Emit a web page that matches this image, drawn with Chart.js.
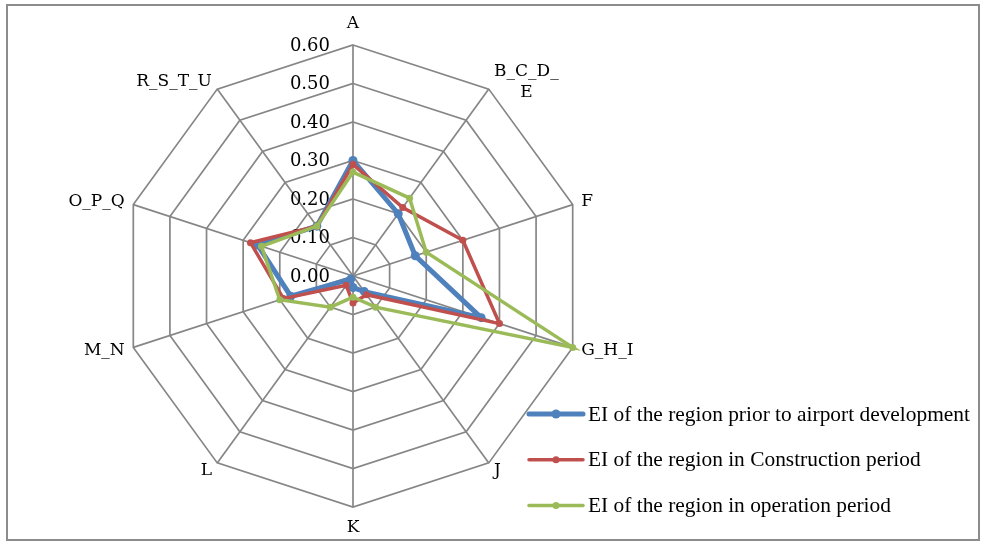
<!DOCTYPE html>
<html>
<head>
<meta charset="utf-8">
<script src="https://cdn.jsdelivr.net/npm/chart.js@4/dist/chart.umd.min.js"></script>
<style>
  html, body { margin: 0; padding: 0; background: #fff; }
  #wrap { position: relative; width: 982px; height: 542px; }
  #frame { position: absolute; left: 6px; top: 4px; width: 974px; height: 537px;
           border: 2px solid #8c8c8c; box-sizing: border-box; pointer-events: none; }
  canvas { position: absolute; left: 0; top: 0; }
</style>
</head>
<body>
<div id="wrap">
  <canvas id="myChart" width="982" height="542"></canvas>
  <div id="frame"></div>
</div>
<script>
// categories (axes of the radar)
const categories = ["A", ["B_C_D_", "E"], "F", "G_H_I", "J", "K", "L", "M_N", "O_P_Q", "R_S_T_U"];

// series values
const priorValues        = [0.30, 0.20, 0.17, 0.35, 0.05, 0.03, 0.01, 0.17, 0.26, 0.16];
const constructionValues = [0.29, 0.22, 0.30, 0.40, 0.06, 0.07, 0.03, 0.19, 0.28, 0.16];
const operationValues    = [0.27, 0.25, 0.20, 0.60, 0.10, 0.055, 0.10, 0.20, 0.25, 0.16];

const seriesNames = [
  "EI of the region prior to airport development",
  "EI of the region in Construction period",
  "EI of the region in operation period"
];

// tick labels 0.00 .. 0.60
const tickMin = 0, tickMax = 0.6, tickStep = 0.1;

const blue = "#4F81BD", red = "#C0504D", green = "#9BBB59";
const gridColor = "#868686";

// draws the value labels to the left of the A axis
const tickLabelPlugin = {
  id: "tickLabels",
  beforeDatasetsDraw(chart) {
    const scale = chart.scales.r;
    const ctx = chart.ctx;
    ctx.save();
    ctx.font = "18px 'DejaVu Serif'";
    ctx.fillStyle = "#000";
    ctx.textAlign = "right";
    ctx.textBaseline = "middle";
    scale.ticks.forEach((t) => {
      const p = scale.getPointPositionForValue(0, t.value);
      ctx.fillText(t.value.toFixed(2), p.x - 23, p.y + 1);
    });
    ctx.restore();
  }
};

// Excel-like category labels round the outside
const pointLabelPlugin = {
  id: "outerLabels",
  afterDraw(chart) {
    const scale = chart.scales.r;
    const ctx = chart.ctx;
    const labels = chart.data.labels;
    ctx.save();
    ctx.font = "17px 'DejaVu Serif'";
    ctx.fillStyle = "#000";
    ctx.textBaseline = "middle";
    const n = labels.length;
    for (let i = 0; i < n; i++) {
      const deg = i * 360 / n;
      const lines = Array.isArray(labels[i]) ? labels[i] : [labels[i]];
      const vertical = (deg === 0 || deg === 180);
      const p = scale.getPointPosition(i, scale.drawingArea + (vertical ? 21 : 9));
      const lh = 21;
      const widths = lines.map((l) => ctx.measureText(l).width);
      const maxW = Math.max(...widths);
      let left;
      if (vertical) left = p.x - maxW / 2;
      else if (deg < 180) left = p.x;
      else left = p.x - maxW;
      ctx.textAlign = "center";
      lines.forEach((l, k) => {
        const y = p.y + (k - (lines.length - 1) / 2) * lh;
        ctx.fillText(l, left + maxW / 2, y);
      });
    }
    ctx.restore();
  }
};

// legend at the lower right
const legendPlugin = {
  id: "sideLegend",
  afterDraw(chart) {
    const ctx = chart.ctx;
    ctx.save();
    ctx.font = "21.4px 'Liberation Serif'";
    ctx.textAlign = "left";
    ctx.textBaseline = "middle";
    chart.data.datasets.forEach((ds, i) => {
      const y = 414 + i * 45.8;
      ctx.strokeStyle = ds.borderColor;
      ctx.lineWidth = ds.borderWidth;
      ctx.lineCap = "round";
      ctx.beginPath();
      ctx.moveTo(529, y);
      ctx.lineTo(583, y);
      ctx.stroke();
      ctx.fillStyle = ds.borderColor;
      ctx.beginPath();
      ctx.arc(556, y, ds.pointRadius, 0, Math.PI * 2);
      ctx.fill();
      ctx.fillStyle = "#000";
      ctx.fillText(ds.label, 588, y + 1);
    });
    ctx.restore();
  }
};

const ctx = document.getElementById("myChart").getContext("2d");
const myChart = new Chart(ctx, {
  type: "radar",
  data: {
    labels: categories,
    datasets: [
      {
        label: seriesNames[0],
        data: priorValues,
        borderColor: blue,
        backgroundColor: blue,
        pointBackgroundColor: blue,
        pointBorderColor: blue,
        borderWidth: 5,
        pointRadius: 4.5,
        pointBorderWidth: 0,
        fill: false,
        tension: 0,
        order: 2
      },
      {
        label: seriesNames[1],
        data: constructionValues,
        borderColor: red,
        backgroundColor: red,
        pointBackgroundColor: red,
        pointBorderColor: red,
        borderWidth: 3.5,
        pointRadius: 3.5,
        pointBorderWidth: 0,
        fill: false,
        tension: 0,
        order: 1
      },
      {
        label: seriesNames[2],
        data: operationValues,
        borderColor: green,
        backgroundColor: green,
        pointBackgroundColor: green,
        pointBorderColor: green,
        borderWidth: 3.5,
        pointRadius: 3.5,
        pointBorderWidth: 0,
        fill: false,
        tension: 0,
        order: 0
      }
    ]
  },
  options: {
    responsive: false,
    animation: false,
    devicePixelRatio: 1,
    layout: { padding: { left: 122, right: 397, top: 45, bottom: 34 } },
    plugins: { legend: { display: false }, tooltip: { enabled: false } },
    scales: {
      r: {
        min: tickMin,
        max: tickMax,
        ticks: { stepSize: tickStep, display: false },
        pointLabels: { display: false },
        grid: { color: gridColor, lineWidth: 1.7 },
        angleLines: { color: gridColor, lineWidth: 1.7 }
      }
    }
  },
  plugins: [tickLabelPlugin, pointLabelPlugin, legendPlugin]
});
</script>
</body>
</html>
